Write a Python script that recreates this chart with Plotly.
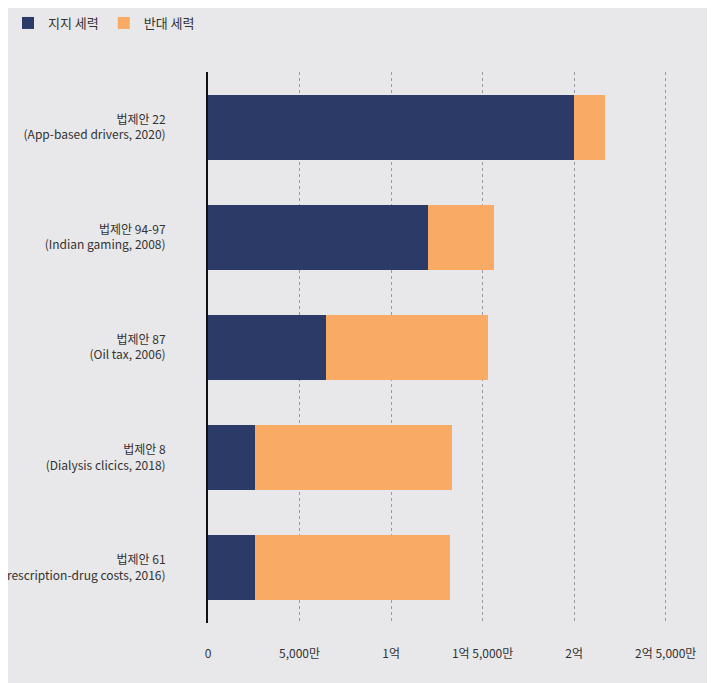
import plotly.graph_objects as go

categories = [
    "법제안 22<br>(App-based drivers, 2020)",
    "법제안 94-97<br>(Indian gaming, 2008)",
    "법제안 87<br>(Oil tax, 2006)",
    "법제안 8<br>(Dialysis clicics, 2018)",
    "법제안 61<br>(Prescription-drug costs, 2016)",
]
# units: 만 (10,000 won)
support = [20000, 12000, 6470, 2590, 2590]
total = [21700, 15600, 15300, 13300, 13200]
oppose = [t - s for t, s in zip(total, support)]

tick_vals = [0, 5000, 10000, 15000, 20000, 25000]
tick_text = ["0", "5,000만", "1억", "1억 5,000만", "2억", "2억 5,000만"]

fig = go.Figure()
fig.add_trace(go.Bar(y=categories, x=support, name="지지 세력", orientation="h",
                     marker=dict(color="#2b3a67", line=dict(width=0))))
fig.add_trace(go.Bar(y=categories, x=oppose, name="반대 세력", orientation="h",
                     marker=dict(color="#f9ab66", line=dict(width=0))))

fig.update_layout(
    barmode="stack",
    bargap=0.41,
    width=707, height=675,
    margin=dict(l=200, r=20, t=64, b=60, autoexpand=False),
    paper_bgcolor="#e8e8ea",
    plot_bgcolor="#e8e8ea",
    font=dict(family="Noto Sans CJK KR", size=12, color="#333333"),
    legend=dict(orientation="h", xref="container", yref="container",
                x=0.0, y=1.0, xanchor="left", yanchor="top",
                font=dict(size=13), itemwidth=30, traceorder="normal"),
    xaxis=dict(range=[0, 26600], tickvals=tick_vals, ticktext=tick_text,
               showgrid=True, gridcolor="#999999", griddash="dot", gridwidth=1,
               zeroline=False, showline=False, ticks="", ticklabelstandoff=22,
               automargin=False),
    yaxis=dict(autorange="reversed", showline=True, linecolor="#111111", linewidth=2,
               ticks="", ticklabelstandoff=38, showgrid=False, automargin=False),
)

fig.write_html("out.html")
